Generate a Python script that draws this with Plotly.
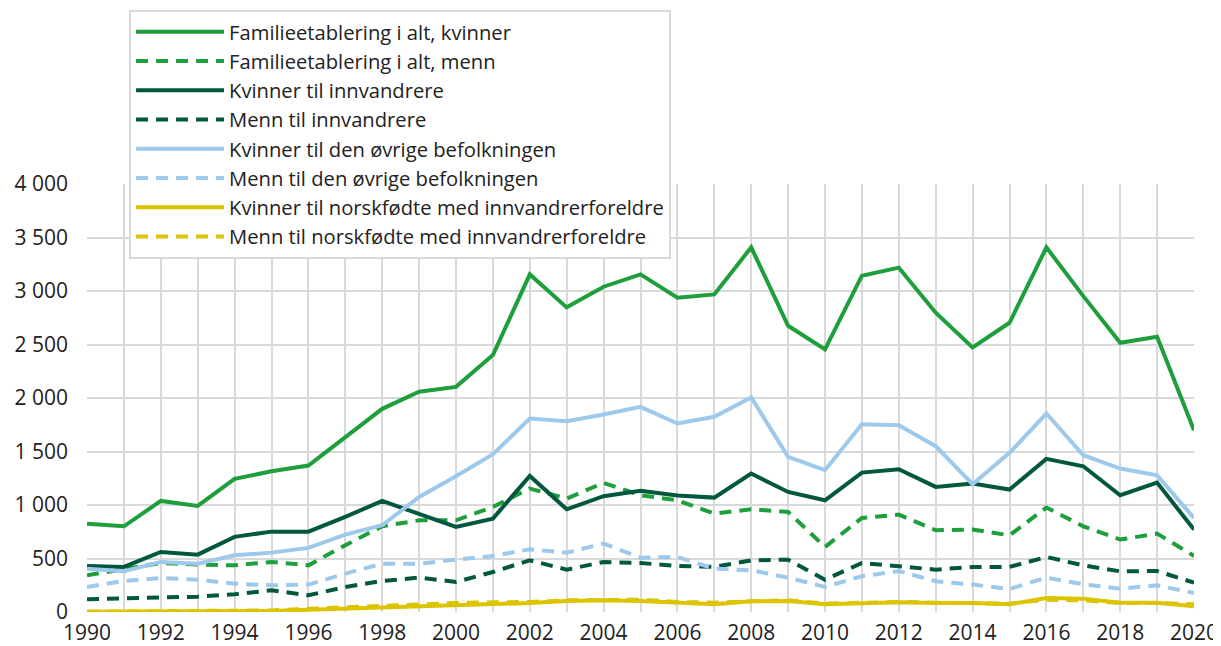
import plotly.graph_objects as go

years = list(range(1990, 2021))

fam_kvinner = [826, 801, 1038, 991, 1244, 1316, 1369, 1637, 1899, 2058,
               2104, 2401, 3155, 2847, 3040, 3155, 2937, 2968, 3408, 2675,
               2454, 3143, 3218, 2797, 2472, 2703, 3408, 2952, 2516, 2572, 1699]
fam_menn = [343, 405, 458, 443, 436, 468, 436, 624, 801, 857,
            857, 982, 1154, 1060, 1207, 1091, 1044, 920, 960, 935,
            608, 879, 910, 764, 770, 717, 976, 801, 677, 733, 524]
kv_innv = [430, 421, 561, 536, 702, 751, 751, 889, 1038, 920,
           795, 873, 1272, 960, 1082, 1132, 1088, 1069, 1294, 1122,
           1044, 1303, 1334, 1169, 1200, 1144, 1431, 1362, 1091, 1210, 770]
menn_innv = [118, 131, 137, 143, 165, 203, 156, 234, 290, 321,
             281, 374, 483, 396, 468, 458, 430, 421, 483, 489,
             302, 458, 427, 396, 421, 421, 514, 436, 380, 383, 274]
kv_ovrige = [405, 380, 468, 452, 530, 555, 599, 723, 811, 1075,
             1269, 1475, 1808, 1783, 1846, 1917, 1762, 1824, 2005, 1450,
             1325, 1755, 1746, 1550, 1194, 1487, 1855, 1465, 1341, 1278, 879]
menn_ovrige = [234, 290, 318, 302, 265, 249, 256, 359, 452, 452,
               489, 524, 586, 555, 639, 508, 514, 405, 390, 321,
               234, 334, 383, 287, 256, 215, 321, 259, 218, 249, 178]
kv_norskf = [2, 3, 4, 5, 8, 10, 20, 30, 45, 55,
             62, 72, 84, 103, 109, 103, 90, 72, 100, 103,
             72, 78, 90, 84, 84, 72, 131, 125, 87, 87, 53]
menn_norskf = [3, 4, 5, 6, 10, 15, 30, 45, 60, 75,
               84, 90, 94, 109, 112, 115, 94, 87, 100, 109,
               78, 84, 94, 87, 87, 78, 115, 109, 84, 84, 72]

names = [
    "Familieetablering i alt, kvinner",
    "Familieetablering i alt, menn",
    "Kvinner til innvandrere",
    "Menn til innvandrere",
    "Kvinner til den øvrige befolkningen",
    "Menn til den øvrige befolkningen",
    "Kvinner til norskfødte med innvandrerforeldre",
    "Menn til norskfødte med innvandrerforeldre",
]
series = [fam_kvinner, fam_menn, kv_innv, menn_innv, kv_ovrige, menn_ovrige, kv_norskf, menn_norskf]
colors = ["#1f9e3c", "#1f9e3c", "#02573f", "#02573f", "#9dc9ec", "#9dc9ec", "#dcc400", "#dcc400"]
dashes = ["solid", "12px,8px"] * 4

fig = go.Figure()
for n, s, c, d in zip(names, series, colors, dashes):
    fig.add_trace(go.Scatter(x=years, y=s, name=n, mode="lines",
                             line=dict(color=c, width=4, dash=d)))

# page body has an 8px margin, so figure is shrunk/shifted to keep the plot area in place
fig.update_layout(
    width=1213, height=638,
    margin=dict(l=79, r=27, t=176, b=34, autoexpand=False),
    paper_bgcolor="white", plot_bgcolor="white",
    separators=", ",
    font=dict(family="Open Sans", size=21, color="#222222"),
    showlegend=True,
    legend=dict(x=0.038, y=1.4065, xanchor="left", yanchor="top",
                bgcolor="white", bordercolor="#d9d9d9", borderwidth=2,
                font=dict(size=20.2), tracegroupgap=0, itemwidth=88),
    xaxis=dict(range=[1990, 2020], tickmode="linear", tick0=1990, dtick=2,
               showgrid=True, gridcolor="#d9d9d9", gridwidth=2,
               minor=dict(dtick=1, tick0=1990, showgrid=True, gridcolor="#d9d9d9", gridwidth=2),
               zeroline=False, showline=False, ticks="", automargin=False,
               ticklabelstandoff=6, tickfont=dict(size=21)),
    yaxis=dict(range=[0, 4000], tickmode="linear", tick0=0, dtick=500,
               tickformat=",d", showgrid=True, gridcolor="#d9d9d9", gridwidth=2,
               zeroline=False, showline=False, ticks="", automargin=False,
               ticklabelstandoff=18, tickfont=dict(size=21)),
)

fig.write_html("out.html")
